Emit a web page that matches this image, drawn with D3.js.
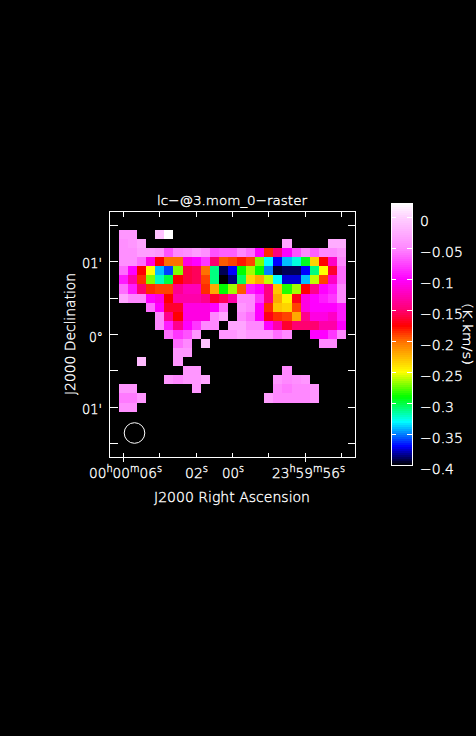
<!DOCTYPE html>
<html><head><meta charset="utf-8"><style>html,body{margin:0;padding:0;background:#000;overflow:hidden}svg{display:block}text{font-family:"DejaVu Sans";font-weight:200;fill:#fff;stroke:#fff;stroke-width:.35px}</style>
<script src="https://cdn.jsdelivr.net/npm/d3@7"></script></head><body><svg id="c" width="476" height="736"></svg>
<script>
const _ = null;
const titleText = "lc\u2212@3.mom_0\u2212raster";
const xLabel = "J2000 Right Ascension";
const yLabel = "J2000 Declination";
const unitLabel = "(K.km/s)";
const colourValues = [0.023,0,-0.05,-0.1,-0.15,-0.175,-0.2,-0.25,-0.29,-0.33,-0.37,-0.4];
const colourStops = ["#ffffff","#ffd0ff","#ff88ff","#ff00ff","#ff0070","#ff0000","#ff7000","#ffff00","#00ff00","#00ffff","#0000ff","#000000"];
const barTicks = [0,-0.05,-0.1,-0.15,-0.2,-0.25,-0.3,-0.35,-0.4];
const barTickLabels = ["0","\u22120.05","\u22120.1","\u22120.15","\u22120.2","\u22120.25","\u22120.3","\u22120.35","\u22120.4"];
const raTicks = [6,4,2,0,-2,-4,-6];
const decTicks = [1.5,1,0.5,0,-0.5,-1,-1.5];
const row00=[-.04,-.04,_,_,-.01,.023,_,_,_,_,_,_,_,_,_,_,_,_,_,_,_,_,_,_,_];
const row01=[-.045,-.04,-.03,_,_,_,_,_,_,_,_,_,_,_,_,_,_,_,-.03,_,_,_,_,-.025,-.025];
const row02=[-.045,-.045,-.035,-.035,-.04,-.07,-.05,-.045,-.035,-.045,-.07,-.065,-.065,-.05,-.06,-.1,-.185,-.145,-.1,-.07,-.05,-.065,-.05,-.05,-.04];
const row03=[-.045,-.045,-.06,-.11,-.175,-.2,-.2,-.11,-.1,-.08,-.15,-.195,-.19,-.18,-.19,-.27,-.33,-.37,-.34,-.325,-.295,-.235,-.175,-.12,-.05];
const row04=[-.06,-.1,-.175,-.25,-.34,-.36,-.27,-.16,-.155,-.2,-.31,-.39,-.37,-.29,-.265,-.29,-.35,-.395,-.39,-.39,-.37,-.31,-.25,-.165,-.06];
const row05=[-.09,-.13,-.185,-.27,-.32,-.3,-.175,-.16,-.155,-.19,-.31,-.4,-.385,-.305,-.235,-.22,-.26,-.33,-.375,-.375,-.34,-.26,-.19,-.12,-.06];
const row06=[-.06,-.09,-.15,-.185,-.19,-.19,-.14,-.125,-.125,-.185,-.22,-.29,-.265,-.195,-.09,-.1,-.145,-.23,-.285,-.265,-.175,-.14,-.1,-.09,-.05];
const row07=[-.03,-.05,-.05,-.1,-.11,-.175,-.13,-.13,-.13,-.14,-.165,-.155,-.13,-.05,-.05,-.08,-.145,-.22,-.245,-.17,-.11,-.1,-.09,-.08,-.05];
const row08=[_,_,_,-.06,-.1,-.165,-.165,-.11,-.11,-.11,-.1,-.06,_,-.04,-.05,-.1,-.185,-.23,-.235,-.19,-.11,-.1,-.1,-.1,-.09];
const row09=[_,_,_,_,-.05,-.14,-.175,-.11,-.11,-.11,-.05,-.03,_,-.05,-.06,-.1,-.17,-.185,-.19,-.22,-.14,-.11,-.11,-.12,-.09];
const row10=[_,_,_,_,-.05,-.09,-.14,-.1,-.08,-.05,-.05,_,-.03,-.03,-.05,-.05,-.1,-.13,-.165,-.15,-.15,-.15,-.13,-.13,-.1];
const row11=[_,_,_,_,_,-.06,-.08,-.07,-.04,_,_,-.04,-.04,-.03,-.04,-.04,-.04,-.06,-.05,_,_,-.1,-.1,-.08,-.05];
const row12=[_,_,_,_,_,_,-.06,-.05,_,-.01,_,_,_,_,_,_,_,_,_,_,_,_,-.05,-.05,_];
const row13=[_,_,_,_,_,_,-.04,-.04,_,_,_,_,_,_,_,_,_,_,_,_,_,_,_,_,_];
const row14=[_,_,-.015,_,_,_,-.04,_,_,_,_,_,_,_,_,_,_,_,_,_,_,_,_,_,_];
const row15=[_,_,_,_,_,_,_,-.04,-.04,_,_,_,_,_,_,_,_,_,-.05,_,_,_,_,_,_];
const row16=[_,_,_,_,_,-.04,-.05,-.04,-.04,-.03,_,_,_,_,_,_,_,-.04,-.05,-.045,-.04,_,_,_,_];
const row17=[-.04,-.04,_,_,_,_,_,_,-.04,_,_,_,_,_,_,_,_,-.05,-.055,-.05,-.05,-.04,_,_,_];
const row18=[-.055,-.055,-.04,_,_,_,_,_,_,_,_,_,_,_,_,_,-.035,-.05,-.05,-.05,-.05,-.04,_,_,_];
const row19=[-.045,-.045,_,_,_,_,_,_,_,_,_,_,_,_,_,_,_,_,_,_,_,_,_,_,_];
const rows=[row00,row01,row02,row03,row04,row05,row06,row07,row08,row09,row10,row11,row12,row13,row14,row15,row16,row17,row18,row19];

const svg=d3.select("#c");
const box={l:109.5,r:355.5,t:211.5,b:457.5};
const cell=9.08;
const col=d3.scaleLinear().domain([0,25]).range([119,119+25*cell]);
const row=d3.scaleLinear().domain([0,20]).range([230,230+20*cell]);
const colour=d3.scaleLinear().domain(colourValues).range(colourStops).clamp(true);
const ra=d3.scaleLinear().domain([6,-6]).range([123.5,341.5]);
const dec=d3.scaleLinear().domain([1.5,-1.5]).range([225.5,443.5]);

const cells=rows.flatMap((r,j)=>r.map((v,i)=>({i,j,v}))).filter(d=>d.v!==null);
svg.append("g").attr("shape-rendering","crispEdges").selectAll("rect").data(cells).join("rect")
 .attr("x",d=>Math.round(col(d.i))).attr("y",d=>Math.round(row(d.j)))
 .attr("width",d=>Math.round(col(d.i+1))-Math.round(col(d.i)))
 .attr("height",d=>Math.round(row(d.j+1))-Math.round(row(d.j)))
 .attr("fill",d=>colour(d.v));

const frame=svg.append("g").attr("stroke","#fff").attr("fill","none").attr("shape-rendering","crispEdges");
frame.append("rect").attr("x",box.l).attr("y",box.t).attr("width",box.r-box.l).attr("height",box.b-box.t);
const longRa=new Set([6,-4]);
raTicks.forEach(t=>{const x=Math.round(ra(t)-.5)+.5;
 frame.append("line").attr("x1",x).attr("x2",x).attr("y1",box.b-5).attr("y2",box.b+(longRa.has(t)?4:0));
 frame.append("line").attr("x1",x).attr("x2",x).attr("y1",box.t).attr("y2",box.t+5);});
decTicks.forEach(t=>{const y=Math.round(dec(t)-.5)+.5;
 frame.append("line").attr("x1",box.l).attr("x2",box.l+8).attr("y1",y).attr("y2",y);
 frame.append("line").attr("x1",box.r-8).attr("x2",box.r).attr("y1",y).attr("y2",y);});
svg.append("circle").attr("cx",134.5).attr("cy",433).attr("r",10.3).attr("fill","none").attr("stroke","#fff").attr("stroke-width",1);

function txt(s,x,y,size,len,anchor,rot){
 const t=svg.append("text").attr("font-size",size).attr("text-anchor",anchor||"middle").attr("dominant-baseline","alphabetic");
 if(rot!==undefined){t.attr("transform",`translate(${x},${y}) rotate(${rot})`);}else{t.attr("x",x).attr("y",y);}
 if(len)t.attr("textLength",len).attr("lengthAdjust","spacingAndGlyphs");
 t.text(s);return t;}
txt(titleText,232,205,13,150);
txt(xLabel,232,502,14,156);
txt(yLabel,75,334,14,122,"middle",-90);
txt("01'",92,268,14,20);
txt("0\u00b0",96,342,14,14);
txt("01'",92,414,14,20);
function sexa(x,len,h,m,s){
 const g=svg.append("text").attr("font-size",14).attr("text-anchor","middle").attr("x",x).attr("y",478).attr("textLength",len).attr("lengthAdjust","spacingAndGlyphs");
 if(h){g.append("tspan").text(h);g.append("tspan").attr("font-size",10).attr("dy",-6).text("h");g.append("tspan").attr("dy",6).text(m);g.append("tspan").attr("font-size",10).attr("dy",-6).text("m");g.append("tspan").attr("dy",6).text(s);g.append("tspan").attr("font-size",10).attr("dy",-6).text("s");}
 else{g.append("tspan").text(s);g.append("tspan").attr("font-size",10).attr("dy",-6).text("s");}
}
sexa(125.5,73,"00","00","06");
sexa(196.5,23,null,null,"02");
sexa(233,22,null,null,"00");
sexa(308.5,73,"23","59","56");

const barY=d3.scaleLinear().domain([0,-0.4]).range([217.5,465]);
const bar=svg.append("g");
const bands=d3.range(0,131);
bar.append("g").attr("shape-rendering","crispEdges").selectAll("rect").data(bands).join("rect")
 .attr("x",391).attr("width",21).attr("y",k=>203+k*2).attr("height",2)
 .attr("fill",k=>colour(barY.invert(203+k*2+1)));
bar.append("rect").attr("x",391.5).attr("y",203.5).attr("width",20.5).attr("height",261.5).attr("fill","none").attr("stroke","#fff").attr("shape-rendering","crispEdges");
barTicks.forEach((t,i)=>{const y=Math.round(barY(t)-.5)+.5;
 [[391,396],[407,412]].forEach(([a,b])=>bar.append("line").attr("x1",a).attr("x2",b).attr("y1",y).attr("y2",y).attr("stroke","#fff").attr("shape-rendering","crispEdges"));
 txt(barTickLabels[i],420,y+8,14,null,"start");});
txt(unitLabel,463,334,13,62,"middle",90);
</script></body></html>
